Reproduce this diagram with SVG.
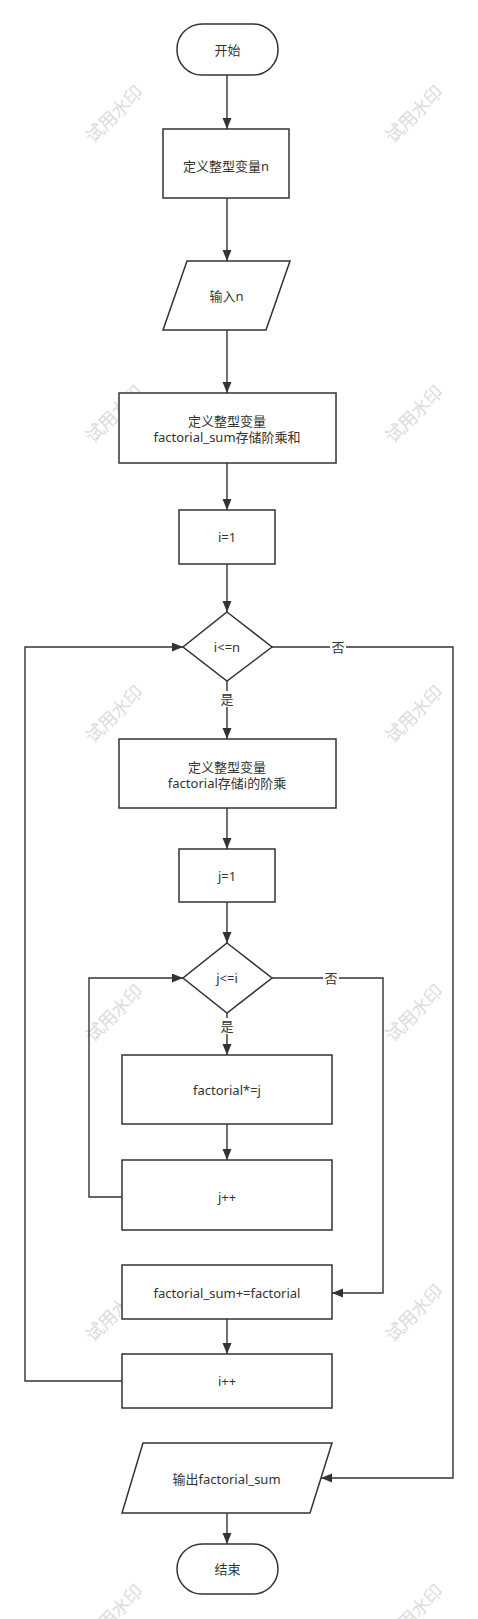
<svg xmlns="http://www.w3.org/2000/svg" width="478" height="1619" viewBox="0 0 478 1619">
<style>
.n{fill:#fff;stroke:#333;stroke-width:1.5}
.t{font-family:"Noto Sans","Noto Sans CJK SC",sans-serif;font-size:13px;fill:#333;text-anchor:middle;dominant-baseline:central}
.c{fill:none;stroke:#333;stroke-width:1.4}
.w{font-family:"Noto Sans CJK SC",sans-serif;font-size:18px;font-weight:300;fill:#fff;stroke:#cdcdcd;stroke-width:0.45;text-anchor:middle;dominant-baseline:central}
.lb{fill:#fff}
</style>
<defs>
<marker id="a" markerWidth="12" markerHeight="10" refX="11" refY="4.5" orient="auto" markerUnits="userSpaceOnUse">
<path d="M0,0 L11,4.5 L0,9 z" fill="#333"/>
</marker>
</defs>
<rect width="478" height="1619" fill="#fff"/>
<g id="watermarks">
<text class="w" transform="translate(113,113) rotate(-45)">试用水印</text>
<text class="w" transform="translate(413,113) rotate(-45)">试用水印</text>
<text class="w" transform="translate(113,413) rotate(-45)">试用水印</text>
<text class="w" transform="translate(413,413) rotate(-45)">试用水印</text>
<text class="w" transform="translate(113,713) rotate(-45)">试用水印</text>
<text class="w" transform="translate(413,713) rotate(-45)">试用水印</text>
<text class="w" transform="translate(113,1012) rotate(-45)">试用水印</text>
<text class="w" transform="translate(413,1012) rotate(-45)">试用水印</text>
<text class="w" transform="translate(113,1312) rotate(-45)">试用水印</text>
<text class="w" transform="translate(413,1312) rotate(-45)">试用水印</text>
<text class="w" transform="translate(113,1612) rotate(-45)">试用水印</text>
<text class="w" transform="translate(413,1612) rotate(-45)">试用水印</text>
</g>
<g id="connectors">
<path class="c" d="M227,75 V129" marker-end="url(#a)"/>
<path class="c" d="M227,198 V261" marker-end="url(#a)"/>
<path class="c" d="M227,330 V393" marker-end="url(#a)"/>
<path class="c" d="M227,463 V510" marker-end="url(#a)"/>
<path class="c" d="M227,564 V612" marker-end="url(#a)"/>
<path class="c" d="M227,681 V739" marker-end="url(#a)"/>
<path class="c" d="M227,808 V849" marker-end="url(#a)"/>
<path class="c" d="M227,902 V943" marker-end="url(#a)"/>
<path class="c" d="M227,1013 V1055" marker-end="url(#a)"/>
<path class="c" d="M227,1124 V1160" marker-end="url(#a)"/>
<path class="c" d="M122,1197 H89 V978 H183" marker-end="url(#a)"/>
<path class="c" d="M272,978 H383 V1293 H332" marker-end="url(#a)"/>
<path class="c" d="M227,1319 V1354" marker-end="url(#a)"/>
<path class="c" d="M122,1381 H25 V647 H183" marker-end="url(#a)"/>
<path class="c" d="M272,647 H453 V1478 H321" marker-end="url(#a)"/>
<path class="c" d="M227,1513 V1544" marker-end="url(#a)"/>
<rect class="lb" x="219" y="691" width="16" height="16"/>
<text class="t" x="227" y="699">是</text>
<rect class="lb" x="219" y="1018" width="16" height="16"/>
<text class="t" x="227" y="1026">是</text>
<rect class="lb" x="330" y="639" width="16" height="16"/>
<text class="t" x="338" y="647">否</text>
<rect class="lb" x="323" y="970" width="16" height="16"/>
<text class="t" x="331" y="978">否</text>
</g>
<g id="start"><rect class="n" x="177" y="24" width="101" height="51" rx="25"/><text class="t" x="227.5" y="49.5">开始</text></g>
<g id="def_n"><rect class="n" x="163" y="129" width="126" height="69"/><text class="t" x="226" y="166">定义整型变量n</text></g>
<g id="input_n"><polygon class="n" points="187,261 290,261 266,330 163,330"/><text class="t" x="226.5" y="295.5">输入n</text></g>
<g id="def_sum"><rect class="n" x="119" y="393" width="217" height="70"/><text class="t" x="227" y="421">定义整型变量</text><text class="t" x="227" y="437">factorial_sum存储阶乘和</text></g>
<g id="i1"><rect class="n" x="179" y="510" width="96" height="54"/><text class="t" x="227" y="537">i=1</text></g>
<g id="cond_i"><polygon class="n" points="227,612 272,647 227,681 183,647"/><text class="t" x="227" y="647">i&lt;=n</text></g>
<g id="def_fact"><rect class="n" x="119" y="739" width="217" height="69"/><text class="t" x="227" y="767">定义整型变量</text><text class="t" x="227" y="783">factorial存储i的阶乘</text></g>
<g id="j1"><rect class="n" x="179" y="849" width="96" height="53"/><text class="t" x="227" y="875.5">j=1</text></g>
<g id="cond_j"><polygon class="n" points="227,943 272,978 227,1013 183,978"/><text class="t" x="227" y="978">j&lt;=i</text></g>
<g id="mul"><rect class="n" x="122" y="1055" width="210" height="69"/><text class="t" x="227" y="1089.5">factorial*=j</text></g>
<g id="jinc"><rect class="n" x="122" y="1160" width="210" height="70"/><text class="t" x="227" y="1197">j++</text></g>
<g id="sum"><rect class="n" x="122" y="1265" width="210" height="54"/><text class="t" x="227" y="1293">factorial_sum+=factorial</text></g>
<g id="iinc"><rect class="n" x="122" y="1354" width="210" height="54"/><text class="t" x="227" y="1381">i++</text></g>
<g id="output"><polygon class="n" points="143,1443 332,1443 310,1513 122,1513"/><text class="t" x="226.5" y="1479">输出factorial_sum</text></g>
<g id="end"><rect class="n" x="177" y="1544" width="101" height="50" rx="25"/><text class="t" x="227.5" y="1569">结束</text></g>
</svg>
